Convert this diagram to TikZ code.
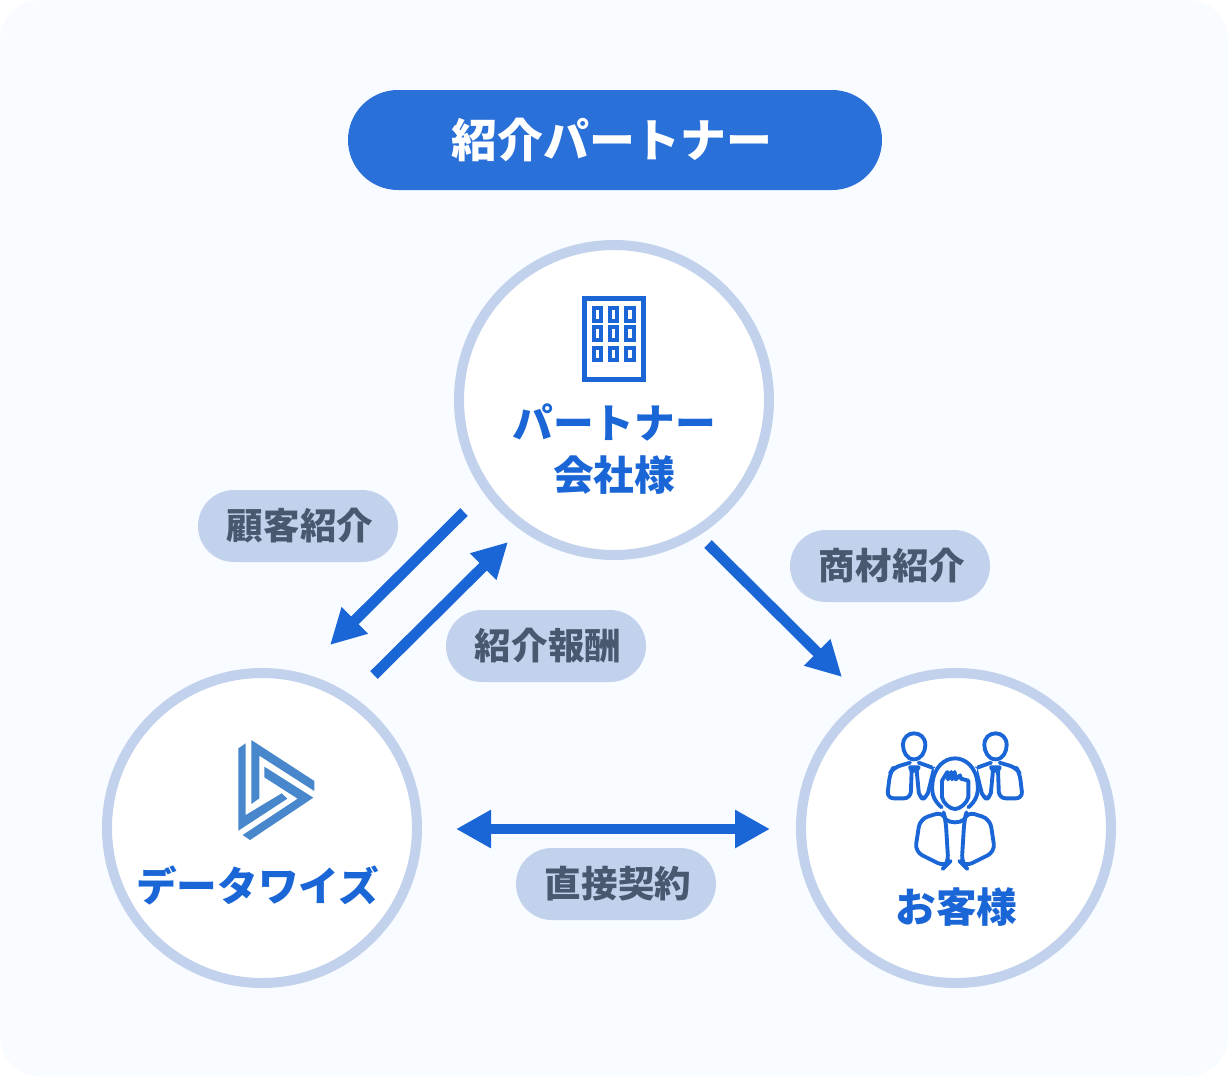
\documentclass[tikz,border=0pt]{standalone}
\usepackage{fontspec}
\setmainfont{Noto Sans CJK JP}
\usetikzlibrary{arrows.meta}

\definecolor{bgpale}{HTML}{F8FBFF}
\definecolor{titleblue}{HTML}{2970D9}
\definecolor{ringblue}{HTML}{C3D2EC}
\definecolor{flowblue}{HTML}{1A66D6}
\definecolor{tagtext}{HTML}{47586F}
\definecolor{logoblue}{HTML}{4887CC}

\newcommand{\tagword}[1]{\hspace{3pt}\raisebox{0.8pt}{#1}}

\tikzset{
    party/.style={circle, draw=ringblue, fill=white, line width=7.5pt, inner sep=0pt, minimum size=232.5pt},
    partytext/.style={text=flowblue, font=\fontsize{30.5}{39}\selectfont\bfseries, align=center, inner sep=0pt},
    tag/.style={fill=ringblue, text=tagtext, font=\fontsize{27.4}{27.4}\selectfont\bfseries, rounded corners=27pt,
        inner sep=0pt, minimum width=150pt, minimum height=54pt},
    flow/.style={draw=flowblue, line width=8pt, -{Triangle[length=26.25pt,width=26.25pt,fill=flowblue]}},
    flowboth/.style={flow, {Triangle[length=26.25pt,width=27pt,fill=flowblue]}-{Triangle[length=26.25pt,width=27pt,fill=flowblue]}},
    iconline/.style={draw=flowblue, line width=2.9pt, line join=round, line cap=round},
}

\begin{document}
\begin{tikzpicture}[x=0.75pt, y=-0.75pt]
    \useasboundingbox (0,0) rectangle (1228,1076);
    \fill[white] (0,0) rectangle (1228,1076);
    \fill[bgpale, rounded corners=30pt] (0,0) rectangle (1228,1076);

    \node[fill=titleblue, text=white, font=\fontsize{34.4}{34.4}\selectfont\bfseries, rounded corners=37.5pt,
        inner sep=0pt, minimum width=400.5pt, minimum height=75pt] (title) at (615,140) {\kern-4.5pt 紹介パートナー};

    \node[party] (partner) at (614,400) {};
    \node[party] (datawise) at (262,828) {};
    \node[party] (customer) at (956,828) {};

    \node[partytext] (partnertext) at (614,449) {パートナー\\会社様};
    \node[partytext] (datawisetext) at (257.5,885) {データワイズ};
    \node[partytext] (customertext) at (956.5,907) {お客様};

    \node[tag] (tagreferral) at (298,526) {\tagword{顧客紹介}};
    \node[tag] (tagreward) at (546,646) {\tagword{紹介報酬}};
    \node[tag] (tagproduct) at (890,566) {\tagword{商材紹介}};
    \node[tag] (tagcontract) at (616,884) {\tagword{直接契約}};

    % free ends of the arrows
    \coordinate (referralstart) at (464,512);
    \coordinate (referralend) at (330,645);
    \coordinate (rewardstart) at (374,675);
    \coordinate (rewardend) at (508,542);
    \coordinate (productstart) at (708,544);
    \coordinate (productend) at (842,677);
    \coordinate (contractleft) at (456,829);
    \coordinate (contractright) at (770,829);

    \draw[flow] (referralstart) -- (referralend);
    \draw[flow] (rewardstart) -- (rewardend);
    \draw[flow] (productstart) -- (productend);
    \draw[flowboth] (contractleft) -- (contractright);

    % building
    \draw[draw=flowblue, line width=3.4pt] (584.5,298.5) rectangle (643.5,379.5);
    \foreach \wx in {597.3,613.7,630}
        \foreach \wy in {314.3,333.7,354}
            \draw[draw=flowblue, line width=2.9pt] (\wx-3.6,\wy-6.3) rectangle (\wx+3.6,\wy+6.3);

    % logo
    \begin{scope}[shift={(210,720)}, x=0.25pt, y=-0.25pt]
        \fill[logoblue] (85,85) -- (107,70) -- (107,285) -- (215,220) -- (232,236) -- (85,332) -- cycle;
        \fill[logoblue] (124,60) -- (313,183) -- (313,213) -- (148,107) -- (148,235) -- (124,252) -- cycle;
        \fill[logoblue] (163,140) -- (310,233) -- (120,360) -- (98,345) -- (263,236) -- (163,172) -- cycle;
    \end{scope}

    % people
    \begin{scope}[shift={(860,710)}, x=0.25pt, y=-0.25pt]
        \foreach \mirrorx/\shiftx in {1/0,-1/569} {
            \begin{scope}[xshift=\shiftx*0.25pt, xscale=\mirrorx]
                \draw[iconline] (162,148) .. controls (140,148) and (129,125) .. (129,105)
                    .. controls (129,82) and (145,70) .. (162,70)
                    .. controls (180,70) and (196,82) .. (196,105)
                    .. controls (196,125) and (184,148) .. (162,148) -- cycle;
                \draw[iconline, rounded corners=5pt] (150,158) -- (100,173) -- (90,190) -- (81,265) -- (152,265) -- (155,180);
                \draw[iconline] (150,172) -- (176,172) -- (170,182) -- (155,182) -- cycle;
                \draw[iconline, rounded corners=4pt] (170,182) -- (178,265) -- (200,265) -- (222,175);
                \draw[iconline] (176,158) -- (215,172);
            \end{scope}
        }
        \fill[white] (222,175) -- (285,140) -- (350,175) -- (360,300) -- (210,300) -- cycle;
        \draw[iconline] (245,292) .. controls (225,275) and (214,255) .. (217,225)
            .. controls (220,170) and (255,145) .. (285,145)
            .. controls (315,145) and (350,170) .. (353,225)
            .. controls (356,255) and (345,275) .. (325,292);
        \draw[iconline] (246,212) -- (246,262) .. controls (250,280) and (270,297) .. (285,297)
            .. controls (300,297) and (320,280) .. (325,262) -- (325,212);
        \draw[iconline] (246,212) -- (262,186) -- (264,208) -- (274,186) -- (276,208) -- (284,186) -- (287,208)
            -- (300,196) -- (303,206) -- (325,212);
        \draw[iconline, rounded corners=6pt] (250,305) -- (180,327) -- (165,425) -- (255,470) -- (265,460) -- (257,330) -- cycle;
        \draw[iconline, rounded corners=6pt] (320,305) -- (390,327) -- (405,425) -- (315,470) -- (305,460) -- (313,330) -- cycle;
        \draw[iconline] (257,328) .. controls (270,340) and (300,340) .. (313,328);
    \end{scope}
\end{tikzpicture}
\end{document}
